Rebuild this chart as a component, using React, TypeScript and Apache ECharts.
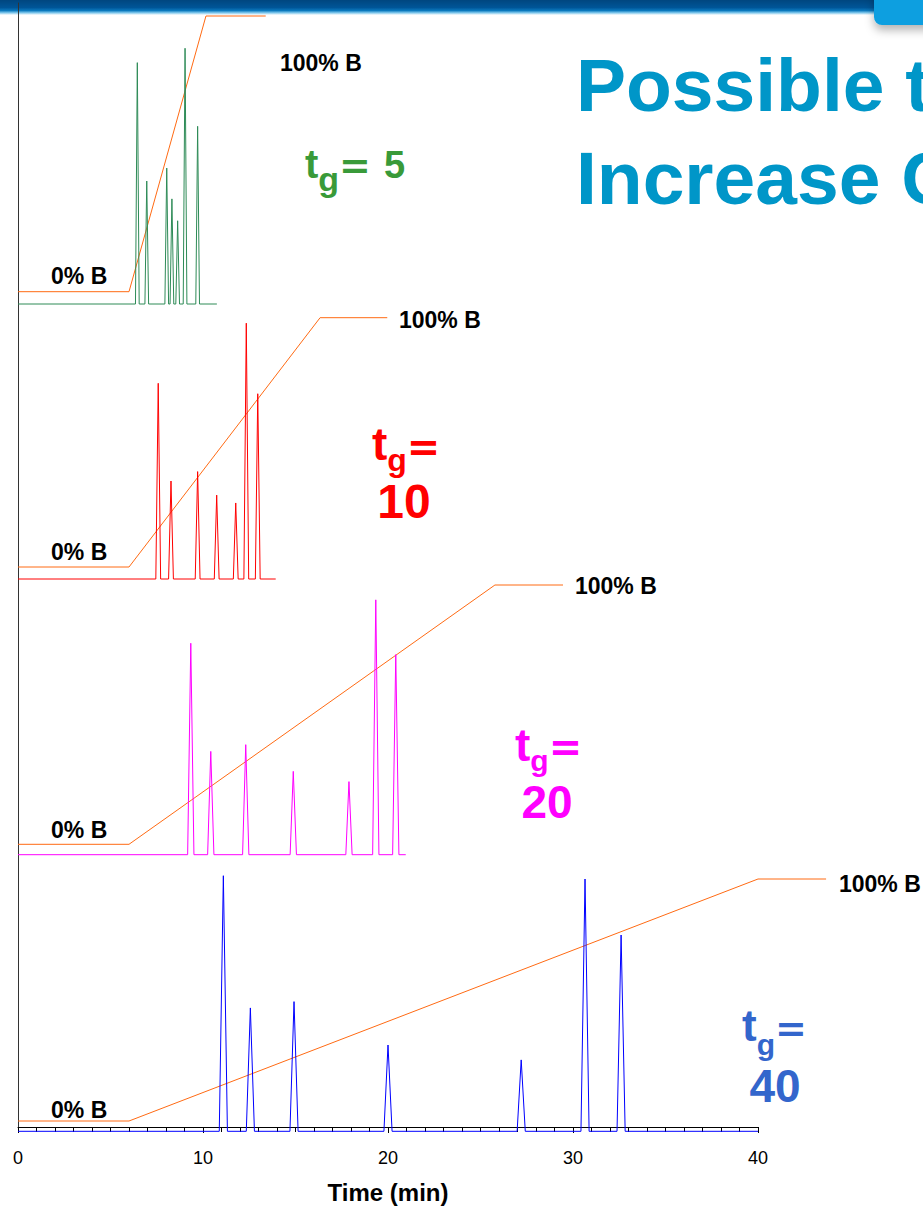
import React, { useEffect, useRef } from "react";
import * as echarts from "echarts";

// ---------------- data ----------------
const timeAxisMin = 0;
const timeAxisMax = 40;
const timeTickStep = 10;
const xAxisTitle = "Time (min)";
const titleLines = ["Possible t", "Increase G"];
const startLabel = "0% B";
const endLabel = "100% B";

// t_g = 5 (green)
const tg5PeakTimes = [6.45, 6.96, 8.04, 8.32, 8.63, 9.03, 9.71];
const tg5PeakHeights = [83.8, 42.7, 47.2, 36.5, 28.9, 88.8, 61.7];
const tg5RunEnd = 10.75;
const tg5GradTimes = [0, 6.0, 10.16, 13.39];
const tg5GradB = [0, 0, 100, 100];

// t_g = 10 (red)
const tg10PeakTimes = [7.58, 8.27, 9.71, 10.74, 11.77, 12.34, 12.96];
const tg10PeakHeights = [74.9, 37.5, 41.1, 32.1, 29.1, 97.9, 70.9];
const tg10RunEnd = 13.93;
const tg10GradTimes = [0, 6.0, 16.33, 19.96];
const tg10GradB = [0, 0, 100, 100];

// t_g = 20 (magenta)
const tg20PeakTimes = [9.34, 10.42, 12.31, 14.88, 17.89, 19.34, 20.42];
const tg20PeakHeights = [78.4, 38.3, 40.8, 30.9, 27.1, 94.5, 74.2];
const tg20RunEnd = 20.96;
const tg20GradTimes = [0, 6.0, 25.78, 29.46];
const tg20GradB = [0, 0, 100, 100];

// t_g = 40 (blue)
const tg40PeakTimes = [11.1, 12.56, 14.92, 20.0, 27.2, 30.65, 32.6];
const tg40PeakHeights = [101.3, 48.9, 51.4, 34.2, 28.3, 100, 77.8];
const tg40RunEnd = 40;
const tg40GradTimes = [0, 6.0, 40.0, 43.68];
const tg40GradB = [0, 0, 100, 100];

const tgValues = ["5", "10", "20", "40"];

// ---------------- helpers ----------------
function traceData(times: number[], heights: number[], halfW: number, end: number) {
  const pts: number[][] = [[0, 0]];
  times.forEach((t, i) => {
    pts.push([t - halfW, 0], [t, heights[i]], [t + halfW, 0]);
  });
  pts.push([end, 0]);
  return pts;
}

const FONT = '"Liberation Sans", Arial, Helvetica, sans-serif';
const WIDE = '"DejaVu Sans", "Liberation Sans", sans-serif';
const ORANGE = "#ff6a13";

export default function App() {
  const ref = useRef<HTMLDivElement>(null);

  useEffect(() => {
    if (!ref.current) return;
    const chart = echarts.init(ref.current, null, { renderer: "svg" });

    const panels = [
      { times: tg5PeakTimes, heights: tg5PeakHeights, end: tg5RunEnd, gt: tg5GradTimes, gb: tg5GradB,
        top: 16, base: 304, gradBottom: 291.7, halfW: 0.1, color: "#2e8b57" },
      { times: tg10PeakTimes, heights: tg10PeakHeights, end: tg10RunEnd, gt: tg10GradTimes, gb: tg10GradB,
        top: 317.7, base: 579, gradBottom: 567, halfW: 0.13, color: "#ff0000" },
      { times: tg20PeakTimes, heights: tg20PeakHeights, end: tg20RunEnd, gt: tg20GradTimes, gb: tg20GradB,
        top: 585, base: 854.7, gradBottom: 844.3, halfW: 0.17, color: "#ff00ff" },
      { times: tg40PeakTimes, heights: tg40PeakHeights, end: tg40RunEnd, gt: tg40GradTimes, gb: tg40GradB,
        top: 879, base: 1131.3, gradBottom: 1121, halfW: 0.22, color: "#0000ff" },
    ];

    const LEFT = 18;
    const PPM = 18.5;
    const PANEL_MAX = 44;

    const grid: any[] = [];
    const xAxis: any[] = [];
    const yAxis: any[] = [];
    const series: any[] = [];

    panels.forEach((p, i) => {
      grid.push({ left: LEFT, width: PANEL_MAX * PPM, top: p.top, height: p.base - p.top });
      xAxis.push({ type: "value", gridIndex: 2 * i, min: 0, max: PANEL_MAX, show: false });
      yAxis.push({ type: "value", gridIndex: 2 * i, min: 0, max: 100, show: false });
      grid.push({ left: LEFT, width: PANEL_MAX * PPM, top: p.top, height: p.gradBottom - p.top });
      xAxis.push({ type: "value", gridIndex: 2 * i + 1, min: 0, max: PANEL_MAX, show: false });
      yAxis.push({ type: "value", gridIndex: 2 * i + 1, min: 0, max: 100, show: false });

      series.push({
        type: "line",
        xAxisIndex: 2 * i + 1,
        yAxisIndex: 2 * i + 1,
        data: p.gt.map((t, k) => [t, p.gb[k]]),
        symbol: "none",
        lineStyle: { color: ORANGE, width: 1 },
        clip: false,
        silent: true,
        z: 2,
      });
      series.push({
        type: "line",
        xAxisIndex: 2 * i,
        yAxisIndex: 2 * i,
        data: traceData(p.times, p.heights, p.halfW, p.end),
        symbol: "none",
        lineStyle: { color: p.color, width: 1 },
        clip: false,
        silent: true,
        z: 3,
      });
    });

    // visible axis grid
    grid.push({ left: LEFT, width: (timeAxisMax - timeAxisMin) * PPM, top: 3, height: 1132.7 });
    xAxis.push({
      type: "value",
      gridIndex: 8,
      min: timeAxisMin,
      max: timeAxisMax,
      interval: timeTickStep,
      axisLine: { show: true, lineStyle: { color: "#000", width: 1 } },
      axisTick: { show: true, length: 6, lineStyle: { color: "#000", width: 1 } },
      minorTick: { show: true, splitNumber: 10, length: 5, lineStyle: { color: "#000", width: 1 } },
      splitLine: { show: false },
      minorSplitLine: { show: false },
      axisLabel: { color: "#000", fontSize: 18, fontFamily: FONT, margin: 22 },
      name: xAxisTitle,
      nameLocation: "middle",
      nameGap: 53,
      nameTextStyle: { color: "#000", fontSize: 24, fontWeight: "bold", fontFamily: FONT },
    });
    yAxis.push({
      type: "value",
      gridIndex: 8,
      min: 0,
      max: 1,
      axisLine: { show: true, lineStyle: { color: "#333", width: 1 } },
      axisTick: { show: false },
      axisLabel: { show: false },
      splitLine: { show: false },
    });

    const txt = (text: string, x: number, y: number, fontSize: number, fill: string, align = "left", family = FONT) => ({
      type: "text",
      x,
      y,
      z: 20,
      silent: true,
      style: { text, fill, fontSize, fontWeight: "bold", fontFamily: family, align, verticalAlign: "middle" },
    });

    // "t_g=" pieces placed side by side: t, subscript g, then "="
    const tgHead = (x: number, tBase: number, gTop: number, F: number, S: number, E: number, fill: string) => {
      const gx = x + 0.333 * F;
      const ex = gx + 0.611 * S;
      return [
        txt("t", x, tBase - 0.35 * F, F, fill),
        txt("g", gx, gTop + 0.519 * S - 0.35 * S, S, fill),
        txt("=", ex, tBase - 0.35 * E, E, fill, "left", WIDE),
      ];
    };

    const graphics: any[] = [
      {
        type: "rect",
        shape: { x: 0, y: 0, width: 923, height: 15 },
        z: -5,
        silent: true,
        style: {
          fill: new echarts.graphic.LinearGradient(0, 0, 0, 1, [
            { offset: 0, color: "#00467f" },
            { offset: 0.5, color: "#005597" },
            { offset: 0.7, color: "#0a78bd" },
            { offset: 0.85, color: "#7cc6ec" },
            { offset: 1, color: "#ffffff" },
          ]),
        },
      },
      {
        type: "rect",
        shape: { x: 874, y: -12, width: 70, height: 37, r: 8 },
        z: -4,
        silent: true,
        style: {
          fill: "#0a9fe0",
          shadowBlur: 10,
          shadowColor: "rgba(0,0,0,0.3)",
          shadowOffsetY: 5,
        },
      },
      txt(titleLines[0], 576, 111 - 0.35 * 75, 75, "#0096c8"),
      txt(titleLines[1], 576, 204 - 0.35 * 75, 75, "#0096c8"),

      // %B labels
      txt(startLabel, 51, 276, 23, "#000"),
      txt(endLabel, 280, 63, 23, "#000"),
      txt(startLabel, 51, 552, 23, "#000"),
      txt(endLabel, 399, 320, 23, "#000"),
      txt(startLabel, 51, 830, 23, "#000"),
      txt(endLabel, 575, 586, 23, "#000"),
      txt(startLabel, 51, 1110, 23, "#000"),
      txt(endLabel, 839, 884, 23, "#000"),

      // t_g = 5
      ...tgHead(305, 178, 173, 40, 34, 38, "#399a39"),
      txt(tgValues[0], 384, 164.5, 38, "#399a39"),
      // t_g = 10
      ...tgHead(372, 460.5, 455, 46, 32, 40, "#ff0000"),
      txt(tgValues[1], 404, 501.5, 48, "#ff0000", "center"),
      // t_g = 20
      ...tgHead(515, 761, 755, 46, 30, 40, "#ff00ff"),
      txt(tgValues[2], 547, 802, 46, "#ff00ff", "center"),
      // t_g = 40
      ...tgHead(742, 1041, 1039, 44, 30, 38, "#3366cc"),
      txt(tgValues[3], 775, 1086, 46, "#3366cc", "center"),
    ];

    chart.setOption({
      animation: false,
      backgroundColor: "#ffffff",
      grid,
      xAxis,
      yAxis,
      series,
      graphic: { elements: graphics },
    });

    return () => chart.dispose();
  }, []);

  return (
    <div
      ref={ref}
      style={{ position: "absolute", left: 0, top: 0, width: 923, height: 1209 }}
    />
  );
}
